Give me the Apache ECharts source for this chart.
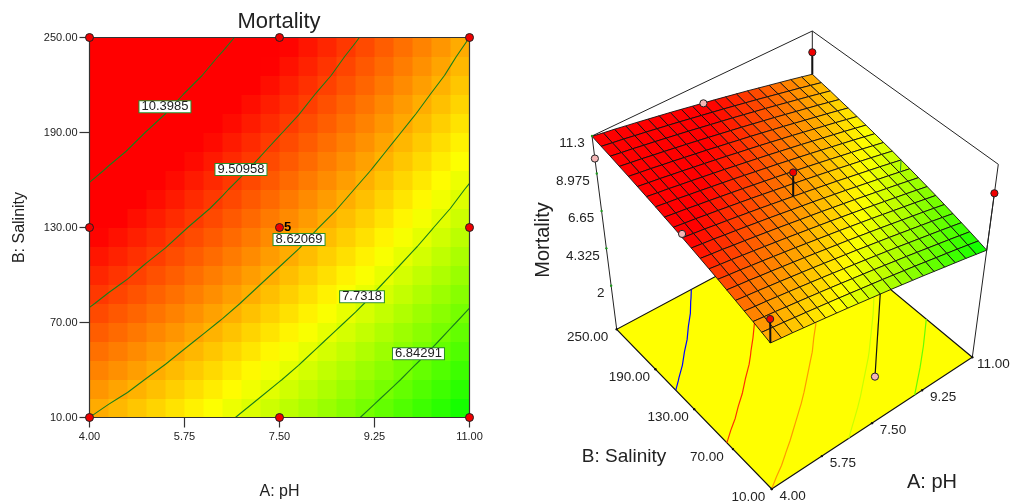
<!DOCTYPE html>
<html><head><meta charset="utf-8">
<style>html,body{margin:0;padding:0;background:#fff}#c{width:1011px;height:502px}</style>
<script src="https://cdn.jsdelivr.net/npm/echarts@6/dist/echarts.min.js"></script>
</head><body><div id="c"></div>
<script>
var pHGrid=[4,4.35,4.7,5.05,5.4,5.75,6.1,6.45,6.8,7.15,7.5,7.85,8.2,8.55,8.9,9.25,9.6,9.95,10.3,10.65,11];
var salGrid=[10,22,34,46,58,70,82,94,106,118,130,142,154,166,178,190,202,214,226,238,250];
var sal010=[8.62,8.51,8.41,8.29,8.18,8.06,7.94,7.82,7.69,7.56,7.43,7.30,7.16,7.02,6.88,6.73,6.58,6.43,6.28,6.12,5.96];
var sal022=[8.78,8.67,8.57,8.45,8.34,8.22,8.10,7.98,7.85,7.72,7.59,7.46,7.32,7.18,7.04,6.89,6.74,6.59,6.44,6.28,6.12];
var sal034=[8.94,8.83,8.73,8.61,8.50,8.38,8.26,8.14,8.01,7.88,7.75,7.62,7.48,7.34,7.20,7.05,6.90,6.75,6.60,6.44,6.28];
var sal046=[9.09,8.98,8.88,8.76,8.65,8.53,8.41,8.29,8.16,8.03,7.90,7.77,7.63,7.49,7.35,7.20,7.05,6.90,6.75,6.59,6.43];
var sal058=[9.24,9.13,9.03,8.91,8.80,8.68,8.56,8.44,8.31,8.18,8.05,7.92,7.78,7.64,7.50,7.35,7.20,7.05,6.90,6.74,6.58];
var sal070=[9.39,9.28,9.18,9.06,8.95,8.83,8.71,8.59,8.46,8.33,8.20,8.07,7.93,7.79,7.65,7.50,7.35,7.20,7.05,6.89,6.73];
var sal082=[9.54,9.43,9.33,9.21,9.10,8.98,8.86,8.74,8.61,8.48,8.35,8.22,8.08,7.94,7.80,7.65,7.50,7.35,7.20,7.04,6.88];
var sal094=[9.68,9.57,9.47,9.35,9.24,9.12,9.00,8.88,8.75,8.62,8.49,8.36,8.22,8.08,7.94,7.79,7.64,7.49,7.34,7.18,7.02];
var sal106=[9.82,9.71,9.61,9.49,9.38,9.26,9.14,9.02,8.89,8.76,8.63,8.50,8.36,8.22,8.08,7.93,7.78,7.63,7.48,7.32,7.16];
var sal118=[9.96,9.85,9.75,9.63,9.52,9.40,9.28,9.16,9.03,8.90,8.77,8.64,8.50,8.36,8.22,8.07,7.92,7.77,7.62,7.46,7.30];
var sal130=[10.09,9.98,9.88,9.76,9.65,9.53,9.41,9.29,9.16,9.03,8.90,8.77,8.63,8.49,8.35,8.20,8.05,7.90,7.75,7.59,7.43];
var sal142=[10.23,10.12,10.02,9.90,9.79,9.67,9.55,9.43,9.30,9.17,9.04,8.91,8.77,8.63,8.49,8.34,8.19,8.04,7.89,7.73,7.57];
var sal154=[10.35,10.24,10.14,10.02,9.91,9.79,9.67,9.55,9.42,9.29,9.16,9.03,8.89,8.75,8.61,8.46,8.31,8.16,8.01,7.85,7.69];
var sal166=[10.48,10.37,10.27,10.15,10.04,9.92,9.80,9.68,9.55,9.42,9.29,9.16,9.02,8.88,8.74,8.59,8.44,8.29,8.14,7.98,7.82];
var sal178=[10.60,10.49,10.39,10.27,10.16,10.04,9.92,9.80,9.67,9.54,9.41,9.28,9.14,9.00,8.86,8.71,8.56,8.41,8.26,8.10,7.94];
var sal190=[10.72,10.61,10.51,10.39,10.28,10.16,10.04,9.92,9.79,9.66,9.53,9.40,9.26,9.12,8.98,8.83,8.68,8.53,8.38,8.22,8.06];
var sal202=[10.84,10.73,10.63,10.51,10.40,10.28,10.16,10.04,9.91,9.78,9.65,9.52,9.38,9.24,9.10,8.95,8.80,8.65,8.50,8.34,8.18];
var sal214=[10.95,10.84,10.74,10.62,10.51,10.39,10.27,10.15,10.02,9.89,9.76,9.63,9.49,9.35,9.21,9.06,8.91,8.76,8.61,8.45,8.29];
var sal226=[11.07,10.96,10.86,10.74,10.63,10.51,10.39,10.27,10.14,10.01,9.88,9.75,9.61,9.47,9.33,9.18,9.03,8.88,8.73,8.57,8.41];
var sal238=[11.17,11.06,10.96,10.84,10.73,10.61,10.49,10.37,10.24,10.11,9.98,9.85,9.71,9.57,9.43,9.28,9.13,8.98,8.83,8.67,8.51];
var sal250=[11.28,11.17,11.07,10.95,10.84,10.72,10.60,10.48,10.35,10.22,10.09,9.96,9.82,9.68,9.54,9.39,9.24,9.09,8.94,8.78,8.62];
var table=[sal010,sal022,sal034,sal046,sal058,sal070,sal082,sal094,sal106,sal118,sal130,sal142,sal154,sal166,sal178,sal190,sal202,sal214,sal226,sal238,sal250];

var pHTicks=[4,5.75,7.5,9.25,11];
var salTicks=[10,70,130,190,250];
var zTicks=[11.3,8.975,6.65,4.325,2];
var levels=[10.3985,9.50958,8.62069,7.7318,6.84291];
var levelLabels=['10.3985','9.50958','8.62069','7.7318','6.84291'];
var labelPH=[5.39,6.79,7.86,9.02,10.06];
var labelSal=[206.2,166.6,122.4,86.2,50.2];
var designPH=[4,7.5,11,4,7.5,11,4,7.5,11];
var designSal=[10,10,10,130,130,130,250,250,250];
var designZ=[10.15,2.23,9.5,10.33,10.4,6.68,9.9,10.07,9.98];
var designAbove=[1,0,1,0,1,0,0,0,1];

/* colour ramp limits and 3D view calibration (screen units) */
var colorMin=5.95,colorMax=10.0;
var zFloor=-0.7,zTop=11.3;
var F={a:[771.7,489],b:[972.3,357.3],c:[616.7,329.3],d:[812.4,224.6]};
var T={a:[770,301],b:[998.3,164.3],c:[592,136],d:[812.3,31]};
var FONT='"Liberation Sans",Arial,sans-serif';
var TXT='#222';

function ramp(z){var t=Math.max(0,Math.min(1,(z-colorMin)/(colorMax-colorMin)));
  var r=t<.5?Math.round(510*t):255,g=t<.5?255:Math.round(510*(1-t));return 'rgb('+r+','+g+',0)';}
function bil(Q,u,v,k){return (1-u)*(1-v)*Q.a[k]+u*(1-v)*Q.b[k]+(1-u)*v*Q.c[k]+u*v*Q.d[k];}
function project(pH,sal,z){var u=(pH-4)/7,v=(sal-10)/240,w=(z-zFloor)/(zTop-zFloor);
  return [bil(F,u,v,0)+w*(bil(T,u,v,0)-bil(F,u,v,0)),bil(F,u,v,1)+w*(bil(T,u,v,1)-bil(F,u,v,1))];}

function contour(L){var pts=[],i,j,a,b,t;
  for(j=0;j<21;j++)for(i=0;i<20;i++){a=table[j][i];b=table[j][i+1];
    if((a-L)*(b-L)<0){t=(L-a)/(b-a);pts.push([pHGrid[i]+t*(pHGrid[i+1]-pHGrid[i]),salGrid[j]]);}}
  for(i=0;i<21;i++)for(j=0;j<20;j++){a=table[j][i];b=table[j+1][i];
    if((a-L)*(b-L)<0){t=(L-a)/(b-a);pts.push([pHGrid[i],salGrid[j]+t*(salGrid[j+1]-salGrid[j])]);}}
  pts.sort(function(p,q){return p[0]-q[0]||p[1]-q[1];});return pts;}

var heatCells=[],meshCells=[];
for(var j=0;j<20;j++)for(var i=0;i<20;i++){
  heatCells.push([pHGrid[i],salGrid[j],pHGrid[i+1],salGrid[j+1],(table[j][i]+table[j][i+1]+table[j+1][i]+table[j+1][i+1])/4]);}
for(var j2=19;j2>=0;j2--)for(var i2=19;i2>=0;i2--)meshCells.push([i2,j2]);

function line(api,a,b,color,w){var p=api.coord(a),q=api.coord(b);
  return {type:'line',shape:{x1:p[0],y1:p[1],x2:q[0],y2:q[1]},style:{stroke:color,lineWidth:w}};}
function text(api,a,dx,dy,s){var p=api.coord(a);
  return {type:'text',x:p[0]+dx,y:p[1]+dy,style:{text:s,fill:TXT,font:'13.5px '+FONT,align:'center',verticalAlign:'middle'}};}
function ball(api,a,fill){var p=api.coord(a);
  return {type:'circle',shape:{cx:p[0],cy:p[1],r:3.6},style:{fill:fill,stroke:'#222',lineWidth:1}};}
function one(fn,z){return {type:'custom',xAxisIndex:1,yAxisIndex:1,z:z,silent:true,clip:false,data:[[0,0]],renderItem:fn};}
function surf(idx){var i=pHGrid.indexOf(designPH[idx]),j=salGrid.indexOf(designSal[idx]);return table[j][i];}

var series=[];
/* left: heat cells */
series.push({type:'custom',xAxisIndex:0,yAxisIndex:0,z:2,silent:true,data:heatCells,encode:{x:[0,2],y:[1,3]},
  renderItem:function(p,api){var a=api.coord([api.value(0),api.value(1)]),b=api.coord([api.value(2),api.value(3)]);
    return {type:'rect',shape:{x:a[0],y:b[1],width:b[0]-a[0]+.5,height:a[1]-b[1]+.5},style:{fill:ramp(api.value(4))}};}});
/* left: contours */
levels.forEach(function(L){series.push({type:'line',xAxisIndex:0,yAxisIndex:0,z:3,silent:true,showSymbol:false,
  data:contour(L),lineStyle:{color:'#1a7f1a',width:1.1}});});
/* left: frame */
series.push({type:'custom',xAxisIndex:0,yAxisIndex:0,z:4,silent:true,clip:false,data:[[4,10]],renderItem:function(p,api){
  var a=api.coord([4,10]),b=api.coord([11,250]);
  return {type:'rect',shape:{x:a[0],y:b[1],width:b[0]-a[0],height:a[1]-b[1]},style:{fill:'none',stroke:'#333',lineWidth:1.2}};}});
/* left: contour labels */
series.push({type:'scatter',xAxisIndex:0,yAxisIndex:0,z:5,silent:true,symbolSize:0,itemStyle:{opacity:1},
  data:levelLabels.map(function(s,k){return {value:[labelPH[k],labelSal[k]],label:{formatter:s}};}),
  label:{show:true,position:'inside',color:TXT,fontFamily:'Liberation Sans',fontSize:13,backgroundColor:'#fff',
    borderColor:'#2a8f2a',borderWidth:1,padding:[0,2,0,2],lineHeight:11}});
/* left: design points */
series.push({type:'scatter',xAxisIndex:0,yAxisIndex:0,z:6,silent:true,clip:false,symbolSize:8,
  itemStyle:{color:'#f00000',borderColor:'#222',borderWidth:1,opacity:1},
  data:designPH.map(function(x,k){return [x,designSal[k]];})});
series.push({type:'scatter',xAxisIndex:0,yAxisIndex:0,z:6,silent:true,symbolSize:0,itemStyle:{opacity:1},data:[[7.5,130]],
  label:{show:true,position:'inside',offset:[8,0],formatter:'5',color:'#000',fontFamily:'Liberation Sans',fontWeight:'bold',fontSize:13}});

/* right: floor */
series.push(one(function(p,api){
  var pts=[project(4,10,zFloor),project(11,10,zFloor),project(11,250,zFloor),project(4,250,zFloor)].map(function(a){return api.coord(a);});
  return {type:'polygon',shape:{points:pts},style:{fill:'#ffff00',stroke:'#111',lineWidth:1.2}};},10));
/* right: floor contours */
var floorColors=['#0000ff','#ff3000','#ff9a00','#c8ff00','#66ff00'];
levels.forEach(function(L,k){var c=contour(L);series.push(one(function(p,api){
  return {type:'polyline',shape:{points:c.map(function(q){return api.coord(project(q[0],q[1],zFloor));})},style:{stroke:floorColors[k],fill:'none',lineWidth:1.2}};},11));});
/* right: box lines */
series.push(one(function(p,api){
  var ch=[];
  ch.push(line(api,project(4,250,zFloor),project(4,250,zTop),'#222',1));
  ch.push(line(api,project(11,10,zFloor),project(11,10,zTop),'#222',1));
  ch.push(line(api,project(11,250,zFloor),project(11,250,zTop),'#222',1));
  ch.push(line(api,project(4,250,zTop),project(11,250,zTop),'#222',1));
  ch.push(line(api,project(11,250,zTop),project(11,10,zTop),'#222',1));
  return {type:'group',children:ch};},12));
/* right: long stem below the surface */
series.push(one(function(p,api){
  return line(api,project(designPH[1],designSal[1],designZ[1]),project(designPH[1],designSal[1],surf(1)),'#111',1.2);},13));
/* right: surface mesh */
series.push({type:'custom',xAxisIndex:1,yAxisIndex:1,z:14,silent:true,clip:false,data:meshCells,renderItem:function(p,api){
  var i=api.value(0),j=api.value(1);
  var pts=[[i,j],[i+1,j],[i+1,j+1],[i,j+1]].map(function(q){return api.coord(project(pHGrid[q[0]],salGrid[q[1]],table[q[1]][q[0]]));});
  var z=(table[j][i]+table[j][i+1]+table[j+1][i]+table[j+1][i+1])/4;
  return {type:'polygon',shape:{points:pts},style:{fill:ramp(z),stroke:'#111',lineWidth:.9}};}});
/* right: stems in front, balls, ticks, labels */
series.push(one(function(p,api){
  var ch=[];
  designPH.forEach(function(x,k){var b=project(x,designSal[k],designZ[k]);
    if(k===5){ch.push(line(api,b,project(x,designSal[k],surf(k)),'#2a8f2a',1));return;}
    if(designAbove[k])ch.push(line(api,b,project(x,designSal[k],surf(k)),k===2?'#222':'#111',k===2?1:2));
    ch.push(ball(api,b,designAbove[k]?'#f00000':'#f4b6b6'));
  });
  pHTicks.forEach(function(t){var a=project(t,10,zFloor);ch.push({type:'circle',shape:{cx:api.coord(a)[0],cy:api.coord(a)[1],r:1.2},style:{fill:'#111'}});
    ch.push(text(api,a,21,7.3,t.toFixed(2)));});
  salTicks.forEach(function(t){var a=project(4,t,zFloor);ch.push({type:'circle',shape:{cx:api.coord(a)[0],cy:api.coord(a)[1],r:1.2},style:{fill:'#111'}});
    ch.push(text(api,a,t===10?-23.4:t===250?-29:-26,8.4,t.toFixed(2)));});
  zTicks.forEach(function(t,k){var a=project(4,250,t);ch.push({type:'circle',shape:{cx:api.coord(a)[0],cy:api.coord(a)[1],r:1.2},style:{fill:'#1f9a1f'}});
    var s=String(t);ch.push(text(api,a,[-20,-24,-20.5,-23.5,-10.5][k],7.6,s));});
  return {type:'group',children:ch};},15));

var option={
  animation:false,
  title:{text:'Mortality',left:274,top:6,textAlign:'center',textStyle:{fontFamily:'Liberation Sans',fontWeight:'normal',fontSize:22,color:TXT}},
  grid:[{left:89.5,top:37.5,width:380,height:380,outerBoundsMode:'none'},{left:0,top:0,width:1011,height:502,show:false,outerBoundsMode:'none'}],
  xAxis:[{type:'value',gridIndex:0,min:4,max:11,name:'A: pH',nameLocation:'middle',nameGap:66,
      nameTextStyle:{fontFamily:'Liberation Sans',fontSize:16,color:TXT},
      axisLine:{lineStyle:{color:'#333',width:1}},splitLine:{show:false},
      axisTick:{length:10,customValues:pHTicks,lineStyle:{color:'#333',width:1.2}},
      axisLabel:{customValues:pHTicks,margin:14,fontFamily:'Liberation Sans',fontSize:11,color:TXT,formatter:function(v){return v.toFixed(2);}}},
    {type:'value',gridIndex:1,min:0,max:1011,show:false}],
  yAxis:[{type:'value',gridIndex:0,min:10,max:250,name:'B: Salinity',nameLocation:'middle',nameGap:62,
      nameTextStyle:{fontFamily:'Liberation Sans',fontSize:16,color:TXT},
      axisLine:{lineStyle:{color:'#333',width:1}},splitLine:{show:false},
      axisTick:{length:10,customValues:salTicks,lineStyle:{color:'#333',width:1.2}},
      axisLabel:{customValues:salTicks,margin:12,fontFamily:'Liberation Sans',fontSize:11,color:TXT,formatter:function(v){return v.toFixed(2);}}},
    {type:'value',gridIndex:1,min:0,max:502,inverse:true,show:false}],
  graphic:[
    {type:'text',x:543,y:240,rotation:Math.PI/2,style:{text:'Mortality',fill:TXT,font:'20px '+FONT,align:'center',verticalAlign:'middle'},z:30},
    {type:'text',x:624,y:457,style:{text:'B: Salinity',fill:TXT,font:'19px '+FONT,align:'center',verticalAlign:'middle'},z:30},
    {type:'text',x:932,y:482,style:{text:'A: pH',fill:TXT,font:'20px '+FONT,align:'center',verticalAlign:'middle'},z:30}
  ],
  series:series
};
var chart=echarts.init(document.getElementById('c'),null,{renderer:'canvas'});
chart.setOption(option);
</script></body></html>
